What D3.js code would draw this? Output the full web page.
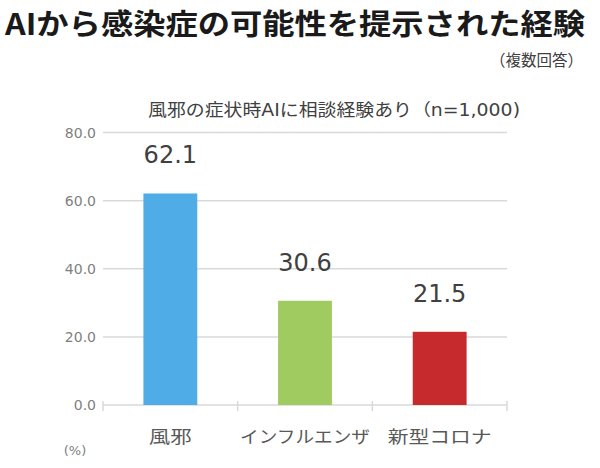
<!DOCTYPE html>
<html><head><meta charset="utf-8">
<script src="https://cdn.jsdelivr.net/npm/d3@7"></script>
<style>
html,body{margin:0;padding:0;background:#fff;}
svg{display:block;font-family:"DejaVu Sans","Noto Sans CJK JP",sans-serif;}
</style></head>
<body><svg id="c" width="600" height="468"></svg>
<script>
const title = "AIから感染症の可能性を提示された経験";
const note = "（複数回答）";
const subtitle = "風邪の症状時AIに相談経験あり（n=1,000)";
const categories = ["風邪", "インフルエンザ", "新型コロナ"];
const values = [62.1, 30.6, 21.5];
const colors = ["#50ACE7", "#A0CB60", "#C72A2D"];
const yTicks = [0, 20, 40, 60, 80];
const unitLabel = "(%)";

const svg = d3.select("#c");
const m = {left: 103, right: 507, top: 132.5, bottom: 405};

const x = d3.scaleBand().domain(categories).range([m.left, m.right])
  .paddingInner(0.6).paddingOuter(0.3);
const y = d3.scaleLinear().domain([0, 80]).range([m.bottom, m.top]);

svg.append("text").attr("x", 5).attr("y", 35)
  .attr("font-family", "'Noto Sans CJK JP',sans-serif")
  .attr("font-size", 29).attr("font-weight", 700).attr("fill", "#1a1a1a")
  .attr("textLength", 580).attr("lengthAdjust", "spacingAndGlyphs")
  .text(title);
svg.append("text").attr("x", 490).attr("y", 66)
  .attr("font-family", "'Noto Sans CJK JP',sans-serif")
  .attr("font-size", 16).attr("fill", "#404040")
  .attr("textLength", 93).attr("lengthAdjust", "spacingAndGlyphs").text(note);
svg.append("text").attr("x", 148).attr("y", 116)
  .attr("font-size", 17).attr("fill", "#404040")
  .attr("textLength", 372).attr("lengthAdjust", "spacingAndGlyphs").text(subtitle);

// grid
svg.append("g").selectAll("line").data(yTicks).join("line")
  .attr("x1", m.left).attr("x2", m.right)
  .attr("y1", d => y(d)).attr("y2", d => y(d))
  .attr("stroke", "#d9d9d9").attr("stroke-width", 1.5);

// y axis labels
svg.append("g").selectAll("text").data(yTicks).join("text")
  .attr("x", 96).attr("y", d => y(d) + 5).attr("text-anchor", "end")
  .attr("font-size", 14).attr("fill", "#7f7f7f")
  .text(d => d3.format(".1f")(d));

// category boundary ticks
const step = x.step();
const bounds = categories.map(c => x(c) - step * x.paddingInner() / 2)
  .concat([x(categories[categories.length - 1]) + x.bandwidth() + step * x.paddingInner() / 2]);
svg.append("g").selectAll("line").data(bounds).join("line")
  .attr("x1", d => d).attr("x2", d => d)
  .attr("y1", m.bottom - 4).attr("y2", m.bottom + 6)
  .attr("stroke", "#d9d9d9").attr("stroke-width", 1.5);

// bars
svg.append("g").selectAll("rect").data(values).join("rect")
  .attr("x", (d, i) => x(categories[i]))
  .attr("width", x.bandwidth())
  .attr("y", d => y(d))
  .attr("height", d => y(0) - y(d))
  .attr("fill", (d, i) => colors[i]);

// value labels
svg.append("g").selectAll("text").data(values).join("text")
  .attr("x", (d, i) => x(categories[i]) + x.bandwidth() / 2)
  .attr("y", d => y(d) - 30)
  .attr("text-anchor", "middle").attr("font-size", 24).attr("fill", "#404040")
  .text(d => d3.format(".1f")(d));

// category labels
const catWidths = [43, 130, 104];
svg.append("g").selectAll("text").data(categories).join("text")
  .attr("x", (c, i) => x(c) + x.bandwidth() / 2 - catWidths[i] / 2)
  .attr("y", 443)
  .attr("textLength", (c, i) => catWidths[i]).attr("lengthAdjust", "spacingAndGlyphs")
  .attr("font-size", 17).attr("fill", "#595959").text(c => c);

svg.append("text").attr("x", 75).attr("y", 455).attr("text-anchor", "middle")
  .attr("font-size", 13).attr("fill", "#7f7f7f").text(unitLabel);
</script></body></html>
